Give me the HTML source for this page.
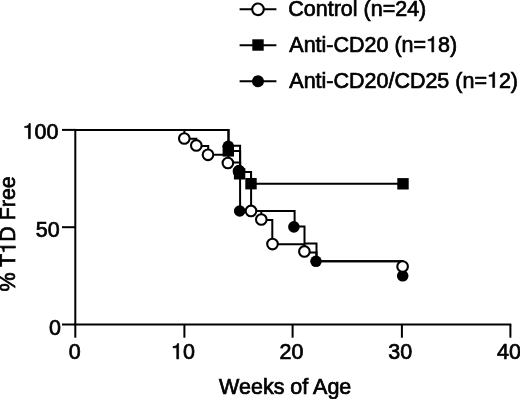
<!DOCTYPE html><html><head><meta charset="utf-8"><style>html,body{margin:0;padding:0;background:#fff;}svg{display:block;will-change:transform;}text{font-family:"Liberation Sans",sans-serif;fill:#000;}</style></head><body>
<svg width="520" height="399" viewBox="0 0 520 399">
<rect width="520" height="399" fill="#fff"/>
<g fill="none" stroke="#000" stroke-width="2.0" stroke-linecap="butt" stroke-linejoin="miter">
<path d="M75.3 128.9 V325.5"/>
<path d="M62 129.9 H75.3"/>
<path d="M62 227.2 H75.3"/>
<path d="M62 324.5 H75.3"/>
<path d="M74.3 324.5 H511.3"/>
<path d="M75.3 324.5 V337.7"/>
<path d="M184.4 324.5 V337.7"/>
<path d="M292.6 324.5 V337.7"/>
<path d="M401.9 324.5 V337.7"/>
<path d="M510.4 324.5 V337.7"/>
<path d="M75.3 129.9 H184.4 V138.7 H196.3 V145.9 H208.2 V154.7 H228.5 V162.6 H240.1 V172 H251.1 V211 H261.3 V219.9 H272.3 V244.2 H304.5 V252.4 H316.5 V261.3 H402.6 V266.6"/>
<path d="M75.3 129.9 H228.5 V150.9 H240.1 V172 H251 V183.8 H403"/>
<path d="M75.3 129.9 H228.5 V145.8 H240.1 V211 H294.6 V226.5 H304.5 V243.6 H316.5 V261.3 H402.6 V275.8"/>
<path d="M239.6 9.2 H276.4"/>
<path d="M239.6 45.2 H276.4"/>
<path d="M239.6 81.2 H276.4"/>
</g>
<rect x="222.60" y="145.20" width="11.4" height="11.4" fill="#000"/>
<rect x="233.90" y="168.10" width="11.4" height="11.4" fill="#000"/>
<rect x="245.30" y="178.00" width="11.4" height="11.4" fill="#000"/>
<rect x="397.30" y="178.10" width="11.4" height="11.4" fill="#000"/>
<circle cx="239.0" cy="171.2" r="5.3" fill="#fff" stroke="#000" stroke-width="2.1"/>
<circle cx="228.3" cy="146.3" r="5.8" fill="#000"/>
<circle cx="239.1" cy="171.1" r="5.8" fill="#000"/>
<circle cx="239.7" cy="211" r="5.8" fill="#000"/>
<circle cx="293.9" cy="226.9" r="5.8" fill="#000"/>
<circle cx="316" cy="261.3" r="5.8" fill="#000"/>
<circle cx="402.7" cy="275.8" r="5.8" fill="#000"/>
<circle cx="184.3" cy="138.5" r="5.3" fill="#fff" stroke="#000" stroke-width="2.1"/>
<circle cx="196.3" cy="145.4" r="5.3" fill="#fff" stroke="#000" stroke-width="2.1"/>
<circle cx="208" cy="154.8" r="5.3" fill="#fff" stroke="#000" stroke-width="2.1"/>
<circle cx="227.9" cy="163" r="5.3" fill="#fff" stroke="#000" stroke-width="2.1"/>
<circle cx="251" cy="210.9" r="5.3" fill="#fff" stroke="#000" stroke-width="2.1"/>
<circle cx="261.3" cy="219.5" r="5.3" fill="#fff" stroke="#000" stroke-width="2.1"/>
<circle cx="272.5" cy="244.1" r="5.3" fill="#fff" stroke="#000" stroke-width="2.1"/>
<circle cx="304.4" cy="251.4" r="5.3" fill="#fff" stroke="#000" stroke-width="2.1"/>
<circle cx="402.6" cy="266.6" r="5.3" fill="#fff" stroke="#000" stroke-width="2.1"/>
<circle cx="258" cy="9.3" r="5.8" fill="#fff" stroke="#000" stroke-width="2.1"/>
<rect x="252.30" y="39.30" width="11.4" height="11.4" fill="#000"/>
<circle cx="258" cy="81.2" r="6.0" fill="#000"/>
<g transform="translate(288.3 16.2) scale(1 1.03)">
<text id="t0" x="0" y="0" font-size="21.5" text-anchor="start" stroke="#000" stroke-width="0.7">Control (n=24)</text>
</g>
<g transform="translate(289.3 51.9) scale(1 1.03)">
<text id="t1" x="0" y="0" font-size="21.5" text-anchor="start" stroke="#000" stroke-width="0.7">Anti-CD20 (n= 8)</text>
<path transform="translate(136.731 0) scale(0.02150 -0.02150)" d="M357 690 L301 690 C277 605 250 570 95 554 L95 503 L271 503 L271 0 L357 0 Z" fill="#000" stroke="#000" stroke-width="32.56"/>
</g>
<g transform="translate(289.3 87.5) scale(1 1.03)">
<text id="t2" x="0" y="0" font-size="21.5" text-anchor="start" stroke="#000" stroke-width="0.7">Anti-CD20/CD25 (n= 2)</text>
<path transform="translate(197.639 0) scale(0.02150 -0.02150)" d="M357 690 L301 690 C277 605 250 570 95 554 L95 503 L271 503 L271 0 L357 0 Z" fill="#000" stroke="#000" stroke-width="32.56"/>
</g>
<g transform="translate(58.5 138.7) scale(1 1.03)">
<text id="t3" x="0" y="0" font-size="21.5" text-anchor="end" stroke="#000" stroke-width="0.7"> 00</text>
<path transform="translate(-35.864 0) scale(0.02150 -0.02150)" d="M357 690 L301 690 C277 605 250 570 95 554 L95 503 L271 503 L271 0 L357 0 Z" fill="#000" stroke="#000" stroke-width="32.56"/>
</g>
<g transform="translate(59.6 236.7) scale(1 1.03)">
<text id="t4" x="0" y="0" font-size="21.5" text-anchor="end" stroke="#000" stroke-width="0.7">50</text>
</g>
<g transform="translate(61 334.8) scale(1 1.03)">
<text id="t5" x="0" y="0" font-size="21.5" text-anchor="end" stroke="#000" stroke-width="0.7">0</text>
</g>
<g transform="translate(74.8 358.9) scale(1 1.03)">
<text id="t6" x="0" y="0" font-size="21.5" text-anchor="middle" stroke="#000" stroke-width="0.7">0</text>
</g>
<g transform="translate(182.9 358.9) scale(1 1.03)">
<text id="t7" x="0" y="0" font-size="21.5" text-anchor="middle" stroke="#000" stroke-width="0.7"> 0</text>
<path transform="translate(-11.952 0) scale(0.02150 -0.02150)" d="M357 690 L301 690 C277 605 250 570 95 554 L95 503 L271 503 L271 0 L357 0 Z" fill="#000" stroke="#000" stroke-width="32.56"/>
</g>
<g transform="translate(291.5 358.9) scale(1 1.03)">
<text id="t8" x="0" y="0" font-size="21.5" text-anchor="middle" stroke="#000" stroke-width="0.7">20</text>
</g>
<g transform="translate(400.2 358.9) scale(1 1.03)">
<text id="t9" x="0" y="0" font-size="21.5" text-anchor="middle" stroke="#000" stroke-width="0.7">30</text>
</g>
<g transform="translate(509 358.9) scale(1 1.03)">
<text id="t10" x="0" y="0" font-size="21.5" text-anchor="middle" stroke="#000" stroke-width="0.7">40</text>
</g>
<g transform="translate(285.2 393.6) scale(1 1.03)">
<text id="t11" x="0" y="0" font-size="21.5" text-anchor="middle" stroke="#000" stroke-width="0.7">Weeks of Age</text>
</g>
<g transform="translate(15.4 233.9) rotate(-90) scale(1 1.03)">
<text id="ty" x="0" y="0" font-size="21.5" text-anchor="middle" stroke="#000" stroke-width="0.7">% T D Free</text>
<path transform="translate(-19.918 0) scale(0.02150 -0.02150)" d="M357 690 L301 690 C277 605 250 570 95 554 L95 503 L271 503 L271 0 L357 0 Z" fill="#000" stroke="#000" stroke-width="32.56"/>
</g>
</svg></body></html>
